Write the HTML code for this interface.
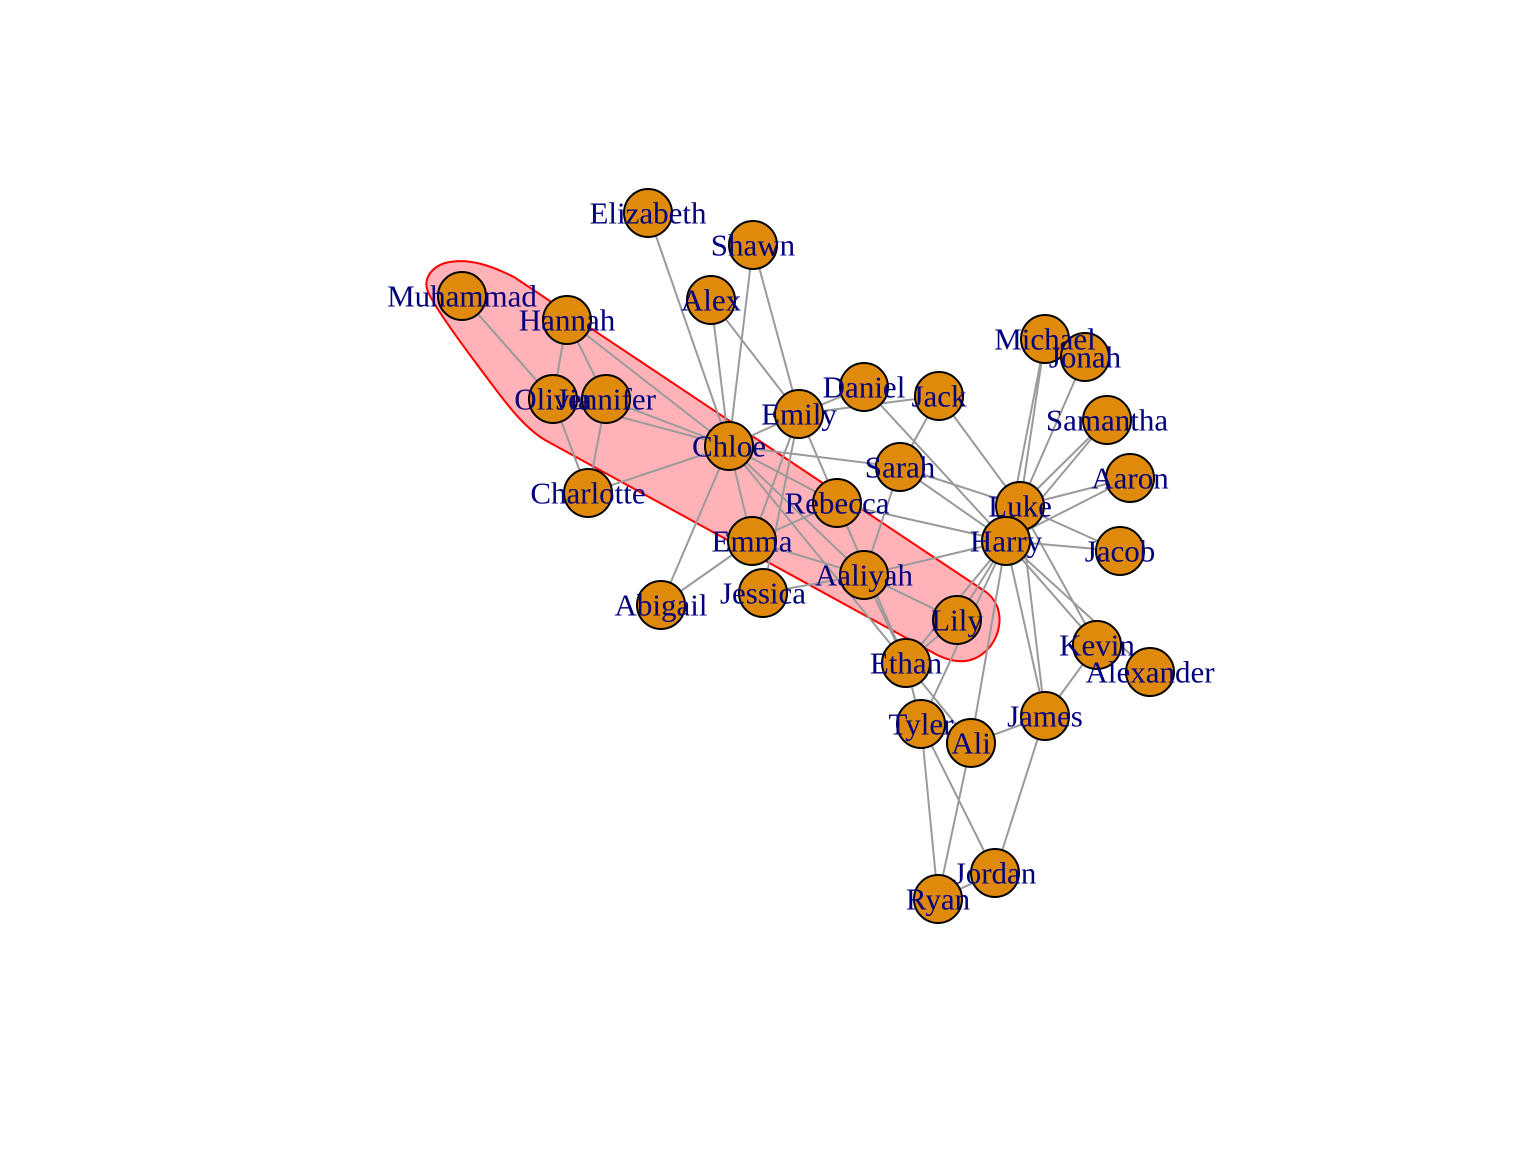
<!DOCTYPE html>
<html><head><meta charset="utf-8"><style>
html,body{margin:0;padding:0;background:#fff;}
svg text{font-family:"Liberation Serif",serif;font-size:31px;fill:#00007f;text-anchor:middle;dominant-baseline:central;}
</style></head><body>
<svg id="chart" width="1536" height="1152" viewBox="0 0 1536 1152">
<path d="M445,263 C468,257 492,266 514,277 L986,592 C1006,607 1002,636 986,651 C970,666 950,663 930,651 L545,440 C520,425 500,395 470,355 C450,328 434,305 428,292 C423,280 430,268 445,263 Z" fill="#ffb3b8" stroke="#ff0000" stroke-width="2"/>
<g id="edges"></g><g id="nodes"></g><g id="labels"></g>
</svg>
<script>
const names=["Elizabeth","Shawn","Alex","Muhammad","Hannah","Olivia","Jennifer","Chloe","Emily","Daniel","Jack","Michael","Jonah","Samantha","Aaron","Sarah","Luke","Harry","Jacob","Charlotte","Rebecca","Emma","Aaliyah","Jessica","Abigail","Lily","Ethan","Kevin","Alexander","James","Tyler","Ali","Jordan","Ryan"];
const xs=[648,753,711,462,567,553,606,729,799,864,939,1045,1085,1107,1130,900,1020,1006,1120,588,837,752,864,763,661,957,906,1097,1150,1045,921,971,995,938];
const ys=[213,245,300,296,320,399,399,446,414,387,396,339,357,420,478,467,506,541,551,493,503,541,575,593,605,620,663,645,672,716,724,743,873,899];
const edges=[["Muhammad","Olivia"],["Hannah","Olivia"],["Hannah","Jennifer"],["Hannah","Chloe"],["Olivia","Charlotte"],["Jennifer","Charlotte"],["Jennifer","Chloe"],["Olivia","Chloe"],["Charlotte","Chloe"],["Elizabeth","Chloe"],["Alex","Chloe"],["Shawn","Chloe"],["Shawn","Emily"],["Alex","Emily"],["Chloe","Emily"],["Chloe","Sarah"],["Chloe","Emma"],["Chloe","Rebecca"],["Chloe","Aaliyah"],["Chloe","Ethan"],["Chloe","Abigail"],["Emily","Daniel"],["Emily","Jack"],["Emily","Emma"],["Emily","Jessica"],["Emily","Ethan"],["Daniel","Harry"],["Jack","Sarah"],["Jack","Luke"],["Sarah","Luke"],["Sarah","Aaliyah"],["Rebecca","Emma"],["Rebecca","Harry"],["Rebecca","Ethan"],["Emma","Abigail"],["Emma","Aaliyah"],["Jessica","Aaliyah"],["Aaliyah","Harry"],["Aaliyah","Lily"],["Aaliyah","Ethan"],["Lily","Ethan"],["Lily","Harry"],["Ethan","Harry"],["Ethan","Tyler"],["Ethan","Ali"],["Tyler","Harry"],["Tyler","Ryan"],["Tyler","Jordan"],["Ali","Harry"],["Ali","Ryan"],["Ali","James"],["James","Harry"],["James","Luke"],["James","Jordan"],["James","Kevin"],["Ryan","Jordan"],["Harry","Michael"],["Luke","Michael"],["Luke","Jonah"],["Luke","Samantha"],["Harry","Samantha"],["Luke","Aaron"],["Harry","Aaron"],["Harry","Jacob"],["Luke","Jacob"],["Harry","Kevin"],["Luke","Kevin"],["Harry","Alexander"],["Luke","Harry"],["Harry","Sarah"]];
const NS="http://www.w3.org/2000/svg";
const eg=document.getElementById('edges'),ng=document.getElementById('nodes'),lg=document.getElementById('labels');
const idx=n=>names.indexOf(n);
edges.forEach(([a,b])=>{const i=idx(a),j=idx(b);
 const l=document.createElementNS(NS,'line');
 
 
 l.setAttribute('x1',xs[i]);l.setAttribute('y1',ys[i]);l.setAttribute('x2',xs[j]);l.setAttribute('y2',ys[j]);
 l.setAttribute('stroke','#9a9a9a');l.setAttribute('stroke-width','2');eg.appendChild(l);});
names.forEach((n,i)=>{
 const c=document.createElementNS(NS,'circle');
 
 
 c.setAttribute('cx',xs[i]);c.setAttribute('cy',ys[i]);c.setAttribute('r','24');
 c.setAttribute('fill','#e08a0b');c.setAttribute('stroke','#000');c.setAttribute('stroke-width','2');ng.appendChild(c);
 const t=document.createElementNS(NS,'text');
 
 
 t.setAttribute('x',xs[i]);t.setAttribute('y',ys[i]);t.textContent=n;lg.appendChild(t);});
</script>
</body></html>
